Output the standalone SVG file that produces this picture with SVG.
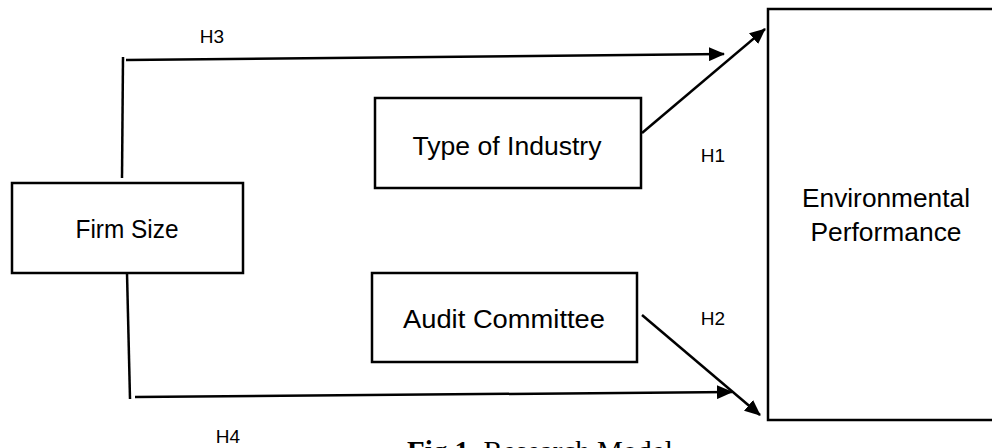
<svg xmlns="http://www.w3.org/2000/svg" width="992" height="448" viewBox="0 0 992 448">
<style>
.box{fill:#fff;stroke:#000;stroke-width:2.5}
.lbl{font-family:"Liberation Sans",Arial,sans-serif;font-size:25px;fill:#000;text-anchor:middle}
.h{font-family:"Liberation Sans",Arial,sans-serif;font-size:19px;fill:#000;text-anchor:middle}
.ln{fill:none;stroke:#000;stroke-width:2.5}
.cap{font-family:"Liberation Serif","Times New Roman",serif;font-size:29px;fill:#000}
</style>
<defs>
<marker id="ah" markerWidth="16" markerHeight="14" refX="15" refY="7" orient="auto" markerUnits="userSpaceOnUse">
<path d="M0,0 L16,7 L0,14 Z" fill="#000"/>
</marker>
</defs>
<rect x="0" y="0" width="992" height="448" fill="#fff"/>
<g id="firm-size"><rect class="box" x="12" y="183" width="231" height="90"/><text class="lbl" x="127" y="238" textLength="103" lengthAdjust="spacingAndGlyphs">Firm Size</text></g>
<g id="type-of-industry"><rect class="box" x="375" y="98" width="266" height="90"/><text class="lbl" x="507" y="155" textLength="189" lengthAdjust="spacingAndGlyphs">Type of Industry</text></g>
<g id="audit-committee"><rect class="box" x="372" y="273" width="265" height="89"/><text class="lbl" x="504" y="328" textLength="202" lengthAdjust="spacingAndGlyphs">Audit Committee</text></g>
<g id="environmental-performance"><rect class="box" x="768" y="9" width="230" height="411"/><text class="lbl" x="886" y="207" textLength="168" lengthAdjust="spacingAndGlyphs">Environmental</text><text class="lbl" x="886" y="241" textLength="151" lengthAdjust="spacingAndGlyphs">Performance</text></g>
<g id="connectors">
<path class="ln" d="M123,57 L122,178"/>
<path class="ln" d="M126,60 L724,54" marker-end="url(#ah)"/>
<path class="ln" d="M642,133 L765,29" marker-end="url(#ah)"/>
<path class="ln" d="M127,273 L130,399"/>
<path class="ln" d="M135,397 L732,392" marker-end="url(#ah)"/>
<path class="ln" d="M642,315 L760,415" marker-end="url(#ah)"/>
<text class="h" x="212" y="43">H3</text>
<text class="h" x="713" y="162">H1</text>
<text class="h" x="713" y="325">H2</text>
<text class="h" x="228" y="443">H4</text>
</g>
<text class="cap" x="407" y="461"><tspan font-weight="bold">Fig.1.</tspan> Research Model</text>
</svg>
